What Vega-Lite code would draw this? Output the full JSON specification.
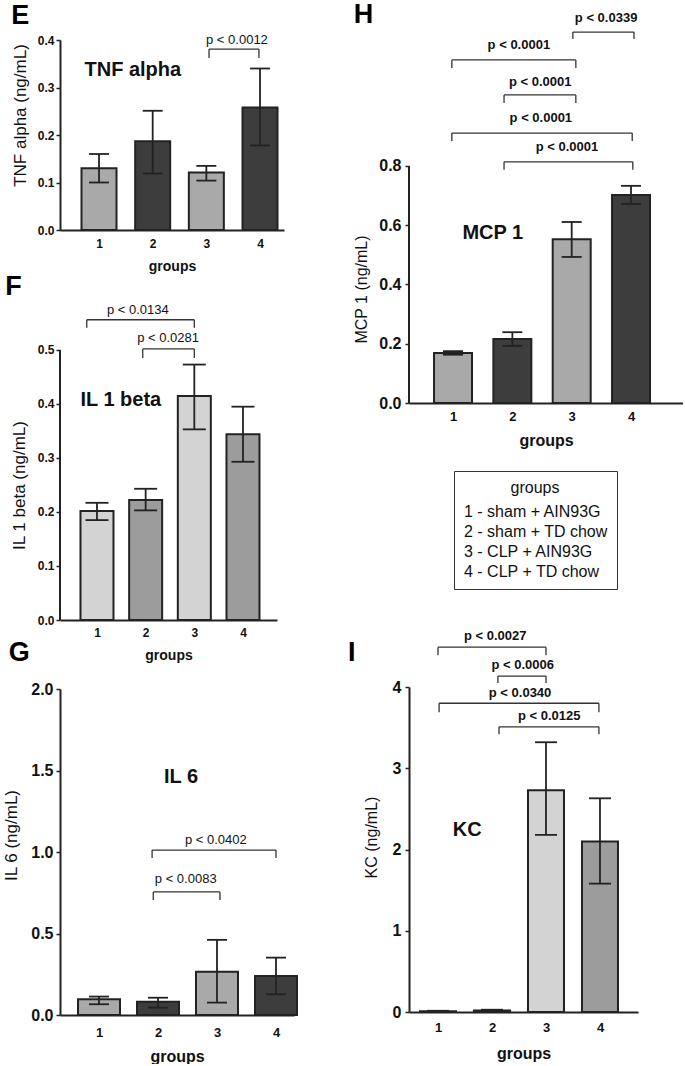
{
  "$schema": "https://vega.github.io/schema/vega-lite/v6.json",
  "background": "white",
  "padding": {"left": 2, "top": 0, "right": 0, "bottom": 0},
  "config": {
    "font": "Liberation Sans",
    "view": {"stroke": null},
    "scale": {"continuousPadding": 0},
    "axis": {"grid": false, "domainColor": "#222", "domainWidth": 2, "tickColor": "#222", "tickWidth": 1.5, "labelColor": "#111", "titleColor": "#111", "labelFontWeight": "bold", "labelFont": "Liberation Sans", "titleFont": "Liberation Sans"},
    "axisX": {"ticks": false, "tickSize": 0, "titleFontWeight": "bold", "labelFlush": false},
    "axisY": {"tickSize": 4, "labelPadding": 2, "titleFontWeight": "normal"},
    "title": {"fontSize": 27, "fontWeight": "bold", "anchor": "start", "frame": "bounds", "baseline": "alphabetic", "color": "#000", "font": "Liberation Sans"},
    "text": {"font": "Liberation Sans", "color": "#111"}
  },
  "datasets": {
    "E": [
      {"group": 1, "mean": 0.130, "lo": 0.100, "hi": 0.160},
      {"group": 2, "mean": 0.187, "lo": 0.119, "hi": 0.251},
      {"group": 3, "mean": 0.121, "lo": 0.104, "hi": 0.135},
      {"group": 4, "mean": 0.258, "lo": 0.178, "hi": 0.340}
    ],
    "Ep": [
      {"from": 3.05, "to": 3.98, "level": 0.381, "foot": 0.362, "lx": 3.57, "ly": 0.400, "label": "p < 0.0012"}
    ],
    "F": [
      {"group": 1, "mean": 0.202, "lo": 0.185, "hi": 0.217},
      {"group": 2, "mean": 0.222, "lo": 0.203, "hi": 0.243},
      {"group": 3, "mean": 0.415, "lo": 0.353, "hi": 0.473},
      {"group": 4, "mean": 0.344, "lo": 0.293, "hi": 0.395}
    ],
    "Fp": [
      {"from": 0.79, "to": 3.0, "level": 0.556, "foot": 0.541, "lx": 1.84, "ly": 0.574, "label": "p < 0.0134"},
      {"from": 1.94, "to": 3.0, "level": 0.502, "foot": 0.485, "lx": 2.46, "ly": 0.522, "label": "p < 0.0281"}
    ],
    "G": [
      {"group": 1, "mean": 0.096, "lo": 0.066, "hi": 0.113},
      {"group": 2, "mean": 0.082, "lo": 0.045, "hi": 0.106},
      {"group": 3, "mean": 0.266, "lo": 0.076, "hi": 0.461},
      {"group": 4, "mean": 0.240, "lo": 0.127, "hi": 0.352}
    ],
    "Gp": [
      {"from": 1.9, "to": 4.0, "level": 1.012, "foot": 0.963, "lx": 2.98, "ly": 1.074, "label": "p < 0.0402"},
      {"from": 1.92, "to": 3.05, "level": 0.755, "foot": 0.706, "lx": 2.47, "ly": 0.834, "label": "p < 0.0083"}
    ],
    "H": [
      {"group": 1, "treatment": "1 - sham + AIN93G", "mean": 0.169, "lo": 0.163, "hi": 0.175},
      {"group": 2, "treatment": "2 - sham + TD chow", "mean": 0.216, "lo": 0.193, "hi": 0.239},
      {"group": 3, "treatment": "3 - CLP + AIN93G", "mean": 0.553, "lo": 0.493, "hi": 0.611},
      {"group": 4, "treatment": "4 - CLP + TD chow", "mean": 0.702, "lo": 0.672, "hi": 0.733}
    ],
    "Hp": [
      {"from": 3.02, "to": 4.05, "level": 1.252, "foot": 1.229, "lx": 3.58, "ly": 1.30, "label": "p < 0.0339"},
      {"from": 0.98, "to": 3.07, "level": 1.158, "foot": 1.131, "lx": 2.11, "ly": 1.208, "label": "p < 0.0001"},
      {"from": 1.86, "to": 3.07, "level": 1.040, "foot": 1.013, "lx": 2.47, "ly": 1.084, "label": "p < 0.0001"},
      {"from": 0.98, "to": 4.02, "level": 0.911, "foot": 0.884, "lx": 2.48, "ly": 0.962, "label": "p < 0.0001"},
      {"from": 1.86, "to": 4.03, "level": 0.814, "foot": 0.787, "lx": 2.92, "ly": 0.864, "label": "p < 0.0001"}
    ],
    "I": [
      {"group": 1, "mean": 0.010, "lo": 0.005, "hi": 0.015},
      {"group": 2, "mean": 0.020, "lo": 0.012, "hi": 0.028},
      {"group": 3, "mean": 2.73, "lo": 2.18, "hi": 3.32},
      {"group": 4, "mean": 2.10, "lo": 1.58, "hi": 2.63}
    ],
    "Ip": [
      {"from": 1.0, "to": 3.0, "level": 4.49, "foot": 4.39, "lx": 2.06, "ly": 4.63, "label": "p < 0.0027"},
      {"from": 2.11, "to": 3.0, "level": 4.135, "foot": 4.05, "lx": 2.57, "ly": 4.27, "label": "p < 0.0006"},
      {"from": 1.02, "to": 3.98, "level": 3.80, "foot": 3.69, "lx": 2.52, "ly": 3.93, "label": "p < 0.0340"},
      {"from": 2.13, "to": 3.98, "level": 3.51, "foot": 3.42, "lx": 3.06, "ly": 3.64, "label": "p < 0.0125"}
    ]
  },
  "spacing": 49,
  "resolve": {"scale": {"fill": "independent"}},
  "hconcat": [
    {
      "bounds": "flush",
      "spacing": 69,
      "resolve": {"scale": {"fill": "independent"}},
      "vconcat": [
        {
          "width": 224, "height": 190,
          "title": {"text": "E", "offset": 4},
          "layer": [
            {"data": {"name": "E"},
             "mark": {"type": "bar", "orient": "vertical", "size": 35, "stroke": "#222", "strokeWidth": 2},
             "encoding": {
               "x": {"field": "group", "type": "quantitative", "scale": {"domain": [0.273, 4.447], "nice": false, "zero": false, "padding": 0},
                     "axis": {"values": [1, 2, 3, 4], "format": "d", "title": "groups", "labelFontSize": 12, "labelPadding": 8, "titleFontSize": 14, "titlePadding": 10}},
               "y": {"field": "mean", "type": "quantitative", "stack": null, "scale": {"domain": [0, 0.4], "nice": false, "padding": 0},
                     "axis": {"values": [0, 0.1, 0.2, 0.3, 0.4], "format": ".1f", "title": "TNF alpha (ng/mL)", "labelFontSize": 12, "titleFontSize": 17, "titlePadding": 8, "titleY": 75}},
               "fill": {"field": "group", "type": "nominal", "scale": {"domain": [1, 2, 3, 4], "range": ["#a9a9a9", "#3d3d3d", "#a9a9a9", "#3d3d3d"]}, "legend": null}
             }},
            {"data": {"name": "E"}, "mark": {"type": "rule", "color": "#222", "strokeWidth": 1.8},
             "encoding": {"x": {"field": "group", "type": "quantitative"}, "y": {"field": "lo", "type": "quantitative"}, "y2": {"field": "hi"}}},
            {"data": {"name": "E"}, "mark": {"type": "tick", "orient": "horizontal", "size": 20, "thickness": 1.8, "color": "#222", "opacity": 1},
             "encoding": {"x": {"field": "group", "type": "quantitative"}, "y": {"field": "lo", "type": "quantitative"}}},
            {"data": {"name": "E"}, "mark": {"type": "tick", "orient": "horizontal", "size": 20, "thickness": 1.8, "color": "#222", "opacity": 1},
             "encoding": {"x": {"field": "group", "type": "quantitative"}, "y": {"field": "hi", "type": "quantitative"}}},
            {"data": {"name": "Ep"}, "mark": {"type": "rule", "color": "#333", "strokeWidth": 1.3},
             "encoding": {"x": {"field": "from", "type": "quantitative"}, "x2": {"field": "to"}, "y": {"field": "level", "type": "quantitative"}}},
            {"data": {"name": "Ep"}, "mark": {"type": "rule", "color": "#333", "strokeWidth": 1.3},
             "encoding": {"x": {"field": "from", "type": "quantitative"}, "y": {"field": "level", "type": "quantitative"}, "y2": {"field": "foot"}}},
            {"data": {"name": "Ep"}, "mark": {"type": "rule", "color": "#333", "strokeWidth": 1.3},
             "encoding": {"x": {"field": "to", "type": "quantitative"}, "y": {"field": "level", "type": "quantitative"}, "y2": {"field": "foot"}}},
            {"data": {"name": "Ep"}, "mark": {"type": "text", "fontSize": 13, "baseline": "middle"},
             "encoding": {"x": {"field": "lx", "type": "quantitative"}, "y": {"field": "ly", "type": "quantitative"}, "text": {"field": "label"}}},
            {"data": {"values": [{}]}, "mark": {"type": "text", "text": "TNF alpha", "fontSize": 20, "fontWeight": "bold", "baseline": "middle"},
             "encoding": {"x": {"datum": 1.63}, "y": {"datum": 0.337}}}
          ]
        },
        {
          "width": 217, "height": 321,
          "title": {"text": "F", "offset": -2, "dx": -5},
          "layer": [
            {"data": {"name": "F"},
             "mark": {"type": "bar", "orient": "vertical", "size": 33, "stroke": "#222", "strokeWidth": 2},
             "encoding": {
               "x": {"field": "group", "type": "quantitative", "scale": {"domain": [0.24, 4.699], "nice": false, "zero": false, "padding": 0},
                     "axis": {"values": [1, 2, 3, 4], "format": "d", "title": "groups", "labelFontSize": 12, "labelPadding": 7, "titleFontSize": 14, "titlePadding": 10}},
               "y": {"field": "mean", "type": "quantitative", "stack": null, "scale": {"domain": [0, 0.5944], "nice": false, "padding": 0},
                     "axis": {"values": [0, 0.1, 0.2, 0.3, 0.4, 0.5], "format": ".1f", "domain": false, "title": "IL 1 beta (ng/mL)", "labelFontSize": 12, "titleFontSize": 17, "titlePadding": 9, "titleY": 186}},
               "fill": {"field": "group", "type": "nominal", "scale": {"domain": [1, 2, 3, 4], "range": ["#d3d3d3", "#9c9c9c", "#d3d3d3", "#9c9c9c"]}, "legend": null}
             }},
            {"data": {"values": [{}]}, "mark": {"type": "rule", "color": "#222", "strokeWidth": 2},
             "encoding": {"x": {"datum": 0.24}, "y": {"datum": 0}, "y2": {"datum": 0.5}}},
            {"data": {"name": "F"}, "mark": {"type": "rule", "color": "#222", "strokeWidth": 1.8},
             "encoding": {"x": {"field": "group", "type": "quantitative"}, "y": {"field": "lo", "type": "quantitative"}, "y2": {"field": "hi"}}},
            {"data": {"name": "F"}, "mark": {"type": "tick", "orient": "horizontal", "size": 23, "thickness": 1.8, "color": "#222", "opacity": 1},
             "encoding": {"x": {"field": "group", "type": "quantitative"}, "y": {"field": "lo", "type": "quantitative"}}},
            {"data": {"name": "F"}, "mark": {"type": "tick", "orient": "horizontal", "size": 23, "thickness": 1.8, "color": "#222", "opacity": 1},
             "encoding": {"x": {"field": "group", "type": "quantitative"}, "y": {"field": "hi", "type": "quantitative"}}},
            {"data": {"name": "Fp"}, "mark": {"type": "rule", "color": "#333", "strokeWidth": 1.3},
             "encoding": {"x": {"field": "from", "type": "quantitative"}, "x2": {"field": "to"}, "y": {"field": "level", "type": "quantitative"}}},
            {"data": {"name": "Fp"}, "mark": {"type": "rule", "color": "#333", "strokeWidth": 1.3},
             "encoding": {"x": {"field": "from", "type": "quantitative"}, "y": {"field": "level", "type": "quantitative"}, "y2": {"field": "foot"}}},
            {"data": {"name": "Fp"}, "mark": {"type": "rule", "color": "#333", "strokeWidth": 1.3},
             "encoding": {"x": {"field": "to", "type": "quantitative"}, "y": {"field": "level", "type": "quantitative"}, "y2": {"field": "foot"}}},
            {"data": {"name": "Fp"}, "mark": {"type": "text", "fontSize": 13, "baseline": "middle"},
             "encoding": {"x": {"field": "lx", "type": "quantitative"}, "y": {"field": "ly", "type": "quantitative"}, "text": {"field": "label"}}},
            {"data": {"values": [{}]}, "mark": {"type": "text", "text": "IL 1 beta", "fontSize": 20, "fontWeight": "bold", "baseline": "middle"},
             "encoding": {"x": {"datum": 1.49}, "y": {"datum": 0.407}}}
          ]
        },
        {
          "width": 234, "height": 326,
          "title": {"text": "G", "offset": 14, "dx": 6},
          "layer": [
            {"data": {"name": "G"},
             "mark": {"type": "bar", "orient": "vertical", "size": 42, "stroke": "#222", "strokeWidth": 2},
             "encoding": {
               "x": {"field": "group", "type": "quantitative", "scale": {"domain": [0.339, 4.305], "nice": false, "zero": false, "padding": 0},
                     "axis": {"values": [1, 2, 3, 4], "format": "d", "title": "groups", "labelFontSize": 13, "labelPadding": 11, "titleFontSize": 16, "titlePadding": 9}},
               "y": {"field": "mean", "type": "quantitative", "stack": null, "scale": {"domain": [0, 2], "nice": false, "padding": 0},
                     "axis": {"values": [0, 0.5, 1, 1.5, 2], "format": ".1f", "title": "IL 6 (ng/mL)", "labelFontSize": 16, "labelPadding": 3, "titleFontSize": 17, "titlePadding": 10, "titleY": 146}},
               "fill": {"field": "group", "type": "nominal", "scale": {"domain": [1, 2, 3, 4], "range": ["#a9a9a9", "#3d3d3d", "#a9a9a9", "#3d3d3d"]}, "legend": null}
             }},
            {"data": {"name": "G"}, "mark": {"type": "rule", "color": "#222", "strokeWidth": 1.8},
             "encoding": {"x": {"field": "group", "type": "quantitative"}, "y": {"field": "lo", "type": "quantitative"}, "y2": {"field": "hi"}}},
            {"data": {"name": "G"}, "mark": {"type": "tick", "orient": "horizontal", "size": 20, "thickness": 1.8, "color": "#222", "opacity": 1},
             "encoding": {"x": {"field": "group", "type": "quantitative"}, "y": {"field": "lo", "type": "quantitative"}}},
            {"data": {"name": "G"}, "mark": {"type": "tick", "orient": "horizontal", "size": 20, "thickness": 1.8, "color": "#222", "opacity": 1},
             "encoding": {"x": {"field": "group", "type": "quantitative"}, "y": {"field": "hi", "type": "quantitative"}}},
            {"data": {"name": "Gp"}, "mark": {"type": "rule", "color": "#333", "strokeWidth": 1.3},
             "encoding": {"x": {"field": "from", "type": "quantitative"}, "x2": {"field": "to"}, "y": {"field": "level", "type": "quantitative"}}},
            {"data": {"name": "Gp"}, "mark": {"type": "rule", "color": "#333", "strokeWidth": 1.3},
             "encoding": {"x": {"field": "from", "type": "quantitative"}, "y": {"field": "level", "type": "quantitative"}, "y2": {"field": "foot"}}},
            {"data": {"name": "Gp"}, "mark": {"type": "rule", "color": "#333", "strokeWidth": 1.3},
             "encoding": {"x": {"field": "to", "type": "quantitative"}, "y": {"field": "level", "type": "quantitative"}, "y2": {"field": "foot"}}},
            {"data": {"name": "Gp"}, "mark": {"type": "text", "fontSize": 13, "baseline": "middle"},
             "encoding": {"x": {"field": "lx", "type": "quantitative"}, "y": {"field": "ly", "type": "quantitative"}, "text": {"field": "label"}}},
            {"data": {"values": [{}]}, "mark": {"type": "text", "text": "IL 6", "fontSize": 20, "fontWeight": "bold", "baseline": "middle"},
             "encoding": {"x": {"datum": 2.39}, "y": {"datum": 1.46}}}
          ]
        }
      ]
    },
    {
      "bounds": "flush",
      "spacing": 284,
      "resolve": {"scale": {"fill": "independent"}},
      "vconcat": [
        {
          "width": 274, "height": 363,
          "title": {"text": "H", "offset": -17},
          "layer": [
            {"data": {"name": "H"},
             "mark": {"type": "bar", "orient": "vertical", "size": 38, "stroke": "#222", "strokeWidth": 2},
             "encoding": {
               "x": {"field": "group", "type": "quantitative", "scale": {"domain": [0.258, 4.876], "nice": false, "zero": false, "padding": 0},
                     "axis": {"values": [1, 2, 3, 4], "format": "d", "title": "groups", "labelFontSize": 13, "labelPadding": 7, "titleFontSize": 16, "titlePadding": 9}},
               "y": {"field": "mean", "type": "quantitative", "stack": null, "scale": {"domain": [0, 1.2253], "nice": false, "padding": 0},
                     "axis": {"values": [0, 0.2, 0.4, 0.6, 0.8], "format": ".1f", "domain": false, "title": "MCP 1 (ng/mL)", "labelFontSize": 16, "labelPadding": 4, "titleFontSize": 16, "titlePadding": 9, "titleY": 249}},
               "fill": {"field": "treatment", "type": "nominal",
                        "scale": {"domain": ["1 - sham + AIN93G", "2 - sham + TD chow", "3 - CLP + AIN93G", "4 - CLP + TD chow"], "range": ["#a9a9a9", "#3d3d3d", "#a9a9a9", "#3d3d3d"]},
                        "legend": {"title": "groups", "orient": "none", "legendX": 45, "legendY": 431, "direction": "vertical",
                                   "symbolSize": 0, "symbolOpacity": 0, "symbolStrokeWidth": 0, "labelOffset": -15,
                                   "labelFontSize": 16, "labelFont": "Liberation Sans", "labelColor": "#111",
                                   "titleFontSize": 16, "titleFontWeight": "normal", "titleFont": "Liberation Sans", "titleColor": "#111", "titleAnchor": "middle", "titlePadding": 8,
                                   "strokeColor": "#333", "padding": 9, "rowPadding": 4, "fillColor": "white"}}
             }},
            {"data": {"values": [{}]}, "mark": {"type": "rule", "color": "#222", "strokeWidth": 2},
             "encoding": {"x": {"datum": 0.258}, "y": {"datum": 0}, "y2": {"datum": 0.8}}},
            {"data": {"name": "H"}, "mark": {"type": "rule", "color": "#222", "strokeWidth": 1.8},
             "encoding": {"x": {"field": "group", "type": "quantitative"}, "y": {"field": "lo", "type": "quantitative"}, "y2": {"field": "hi"}}},
            {"data": {"name": "H"}, "mark": {"type": "tick", "orient": "horizontal", "size": 20, "thickness": 1.8, "color": "#222", "opacity": 1},
             "encoding": {"x": {"field": "group", "type": "quantitative"}, "y": {"field": "lo", "type": "quantitative"}}},
            {"data": {"name": "H"}, "mark": {"type": "tick", "orient": "horizontal", "size": 20, "thickness": 1.8, "color": "#222", "opacity": 1},
             "encoding": {"x": {"field": "group", "type": "quantitative"}, "y": {"field": "hi", "type": "quantitative"}}},
            {"data": {"name": "Hp"}, "mark": {"type": "rule", "color": "#333", "strokeWidth": 1.3},
             "encoding": {"x": {"field": "from", "type": "quantitative"}, "x2": {"field": "to"}, "y": {"field": "level", "type": "quantitative"}}},
            {"data": {"name": "Hp"}, "mark": {"type": "rule", "color": "#333", "strokeWidth": 1.3},
             "encoding": {"x": {"field": "from", "type": "quantitative"}, "y": {"field": "level", "type": "quantitative"}, "y2": {"field": "foot"}}},
            {"data": {"name": "Hp"}, "mark": {"type": "rule", "color": "#333", "strokeWidth": 1.3},
             "encoding": {"x": {"field": "to", "type": "quantitative"}, "y": {"field": "level", "type": "quantitative"}, "y2": {"field": "foot"}}},
            {"data": {"name": "Hp"}, "mark": {"type": "text", "fontSize": 13, "fontWeight": "bold", "baseline": "middle"},
             "encoding": {"x": {"field": "lx", "type": "quantitative"}, "y": {"field": "ly", "type": "quantitative"}, "text": {"field": "label"}}},
            {"data": {"values": [{}]}, "mark": {"type": "text", "text": "MCP 1", "fontSize": 20, "fontWeight": "bold", "baseline": "middle"},
             "encoding": {"x": {"datum": 1.67}, "y": {"datum": 0.574}}}
          ]
        },
        {
          "width": 229, "height": 325,
          "title": {"text": "I", "offset": -37, "dx": -15},
          "layer": [
            {"data": {"name": "I"},
             "mark": {"type": "bar", "orient": "vertical", "size": 36, "stroke": "#222", "strokeWidth": 2},
             "encoding": {
               "x": {"field": "group", "type": "quantitative", "scale": {"domain": [0.463, 4.704], "nice": false, "zero": false, "padding": 0},
                     "axis": {"values": [1, 2, 3, 4], "format": "d", "title": "groups", "labelFontSize": 13, "labelPadding": 9, "titleFontSize": 16, "titlePadding": 11}},
               "y": {"field": "mean", "type": "quantitative", "stack": null, "scale": {"domain": [0, 4], "nice": false, "padding": 0},
                     "axis": {"values": [0, 1, 2, 3, 4], "format": "d", "title": "KC (ng/mL)", "labelFontSize": 16, "labelPadding": 4, "titleFontSize": 16, "titlePadding": 13, "titleY": 150}},
               "fill": {"field": "group", "type": "nominal", "scale": {"domain": [1, 2, 3, 4], "range": ["#d3d3d3", "#9c9c9c", "#d3d3d3", "#9c9c9c"]}, "legend": null}
             }},
            {"data": {"name": "I"}, "mark": {"type": "rule", "color": "#222", "strokeWidth": 1.8},
             "encoding": {"x": {"field": "group", "type": "quantitative"}, "y": {"field": "lo", "type": "quantitative"}, "y2": {"field": "hi"}}},
            {"data": {"name": "I"}, "mark": {"type": "tick", "orient": "horizontal", "size": 22, "thickness": 1.8, "color": "#222", "opacity": 1},
             "encoding": {"x": {"field": "group", "type": "quantitative"}, "y": {"field": "lo", "type": "quantitative"}}},
            {"data": {"name": "I"}, "mark": {"type": "tick", "orient": "horizontal", "size": 22, "thickness": 1.8, "color": "#222", "opacity": 1},
             "encoding": {"x": {"field": "group", "type": "quantitative"}, "y": {"field": "hi", "type": "quantitative"}}},
            {"data": {"name": "Ip"}, "mark": {"type": "rule", "color": "#333", "strokeWidth": 1.3},
             "encoding": {"x": {"field": "from", "type": "quantitative"}, "x2": {"field": "to"}, "y": {"field": "level", "type": "quantitative"}}},
            {"data": {"name": "Ip"}, "mark": {"type": "rule", "color": "#333", "strokeWidth": 1.3},
             "encoding": {"x": {"field": "from", "type": "quantitative"}, "y": {"field": "level", "type": "quantitative"}, "y2": {"field": "foot"}}},
            {"data": {"name": "Ip"}, "mark": {"type": "rule", "color": "#333", "strokeWidth": 1.3},
             "encoding": {"x": {"field": "to", "type": "quantitative"}, "y": {"field": "level", "type": "quantitative"}, "y2": {"field": "foot"}}},
            {"data": {"name": "Ip"}, "mark": {"type": "text", "fontSize": 13, "fontWeight": "bold", "baseline": "middle"},
             "encoding": {"x": {"field": "lx", "type": "quantitative"}, "y": {"field": "ly", "type": "quantitative"}, "text": {"field": "label"}}},
            {"data": {"values": [{}]}, "mark": {"type": "text", "text": "KC", "fontSize": 20, "fontWeight": "bold", "baseline": "middle"},
             "encoding": {"x": {"datum": 1.54}, "y": {"datum": 2.24}}}
          ]
        }
      ]
    }
  ]
}
